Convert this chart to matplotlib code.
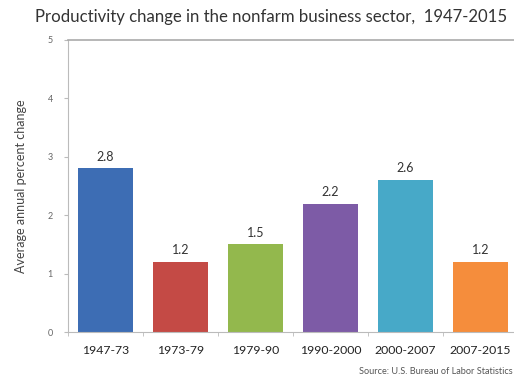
import matplotlib
matplotlib.use('Agg')
import matplotlib.pyplot as plt
import numpy as np

periods = ['1947-73', '1973-79', '1979-90', '1990-2000', '2000-2007', '2007-2015']
growth = [2.8, 1.2, 1.5, 2.2, 2.6, 1.2]
bar_colors = ['#3d6db4', '#c44a45', '#93b84d', '#7d5ba6', '#47a9c8', '#f58d3c']
y_ticks = [0, 1, 2, 3, 4, 5]

plt.rcParams['font.family'] = ['Lato', 'DejaVu Sans']

fig = plt.figure(figsize=(5.14, 3.81), dpi=100)
ax = fig.add_axes([68/514, 49/381, 450/514, 292/381])

x = np.arange(len(periods))
ax.bar(x, growth, width=0.73, color=bar_colors, zorder=2)
for xi, v in zip(x, growth):
	ax.text(xi, v + 0.1, '%.1f' % v, ha='center', va='bottom', fontsize=9, color='#333333')

ax.set_xlim(-0.5, len(periods) - 0.5)
ax.set_ylim(0, 5)
ax.set_yticks(y_ticks)
ax.set_yticklabels([str(t) for t in y_ticks], fontsize=6.5, color='#666666')
ax.set_xticks(x)
ax.set_xticklabels(periods, fontsize=8.8, color='#222222')
ax.set_xticks(np.arange(len(periods) + 1) - 0.5, minor=True)
ax.tick_params(axis='x', which='major', length=0, pad=9)
ax.tick_params(axis='x', which='minor', length=3, color='#bbbbbb', direction='out')
ax.tick_params(axis='y', length=3, color='#bbbbbb', direction='out', pad=8)

ax.spines['right'].set_visible(False)
ax.spines['left'].set_color('#bbbbbb')
ax.spines['bottom'].set_color('#bbbbbb')
ax.spines['top'].set_color('#aaaaaa')
ax.spines['top'].set_linewidth(1.2)

ax.set_ylabel('Average annual percent change', fontsize=9, color='#444444', labelpad=15)
fig.text(0.527, 0.955, 'Productivity change in the nonfarm business sector,  1947-2015',
	ha='center', va='center', fontsize=12.1, color='#333333')
fig.text(0.998, 0.025, 'Source: U.S. Bureau of Labor Statistics', ha='right', va='center',
	fontsize=6.6, color='#555555')

fig.savefig('out.png', dpi=100)
